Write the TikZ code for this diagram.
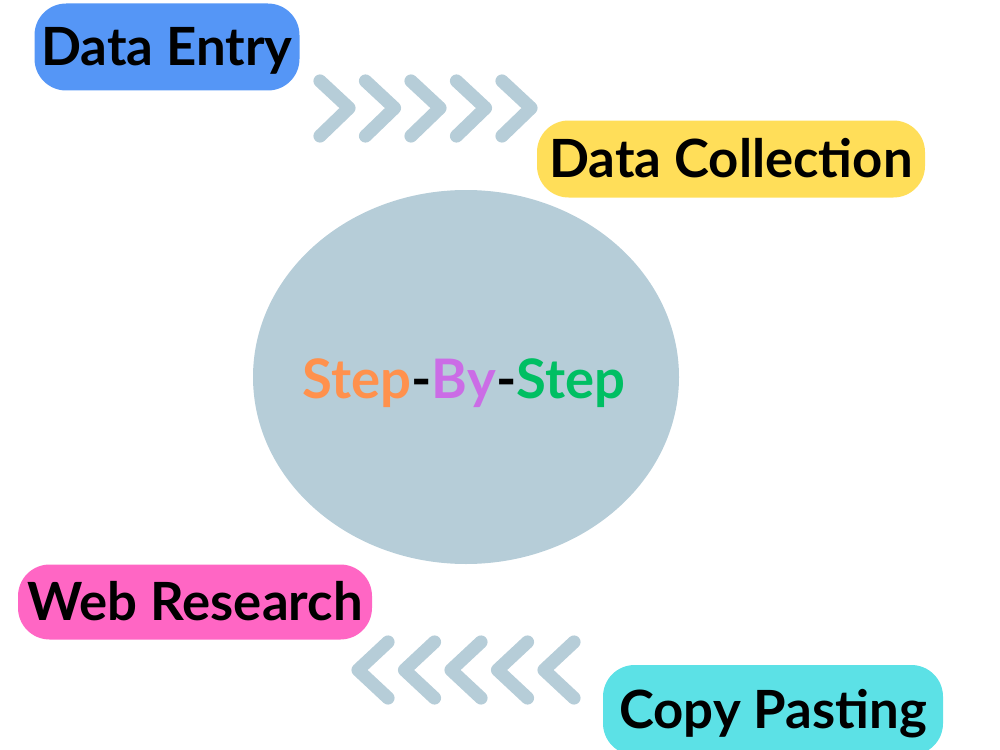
\documentclass[tikz,border=0pt]{standalone}
\usepackage{fontspec}
\setmainfont{Lato}
\usetikzlibrary{positioning}

\definecolor{entryblue}{HTML}{5596F6}
\definecolor{collyellow}{HTML}{FFDE59}
\definecolor{webpink}{HTML}{FF66C4}
\definecolor{copycyan}{HTML}{5CE1E6}
\definecolor{hubgrey}{HTML}{B6CDD8}
\definecolor{steporange}{HTML}{FF914D}
\definecolor{bypurple}{HTML}{CB6CE6}
\definecolor{stepgreen}{HTML}{00BF63}

\tikzset{
	pill/.style={rounded corners=18pt, inner sep=0pt, text height=21pt, text depth=0pt,
		font=\fontsize{30}{36}\selectfont\bfseries, text=black},
	chevron/.style={draw=hubgrey, line width=7.5pt, line cap=round, line join=round},
}

\begin{document}
\begin{tikzpicture}[x=0.02cm,y=-0.02cm]
	\useasboundingbox (0,0) rectangle (1000,750);
	% hub
	\fill[hubgrey] (466,377) ellipse [x radius=213, y radius=187];
	\node[font=\fontsize{31}{36}\selectfont\bfseries, inner sep=0pt, text height=22pt, text depth=0pt] (hub) at (464,379)
		{\textcolor{steporange}{Step}-\textcolor{bypurple}{By}-\textcolor{stepgreen}{Step}};
	% the four steps
	\node[pill, fill=entryblue, minimum width=265*0.02cm, minimum height=87*0.02cm] (entry) at (167,47) {Data Entry};
	\node[pill, fill=collyellow, minimum width=388*0.02cm, minimum height=77*0.02cm] (collect) at (731,159) {Data Collection};
	\node[pill, fill=webpink, minimum width=354*0.02cm, minimum height=75*0.02cm] (web) at (195,602) {Web Research};
	\node[pill, fill=copycyan, minimum width=340*0.02cm, minimum height=90*0.02cm] (copy) at (773,710) {Copy Pasting};
	% chevrons
	\foreach \i in {0,...,4} {
		\draw[chevron] (320+45.5*\i,81) -- (349+45.5*\i,108) -- (320+45.5*\i,136);
	}
	\foreach \i in {0,...,4} {
		\draw[chevron] (388+46.5*\i,642) -- (358+46.5*\i,670) -- (388+46.5*\i,698);
	}
\end{tikzpicture}
\end{document}
